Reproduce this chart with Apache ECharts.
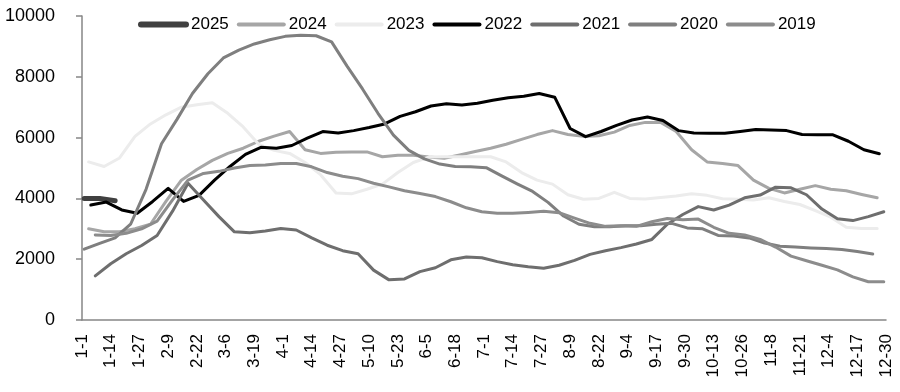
<!DOCTYPE html>
<html>
<head>
<meta charset="utf-8">
<script src="https://cdn.jsdelivr.net/npm/echarts@6/dist/echarts.min.js"></script>
<style>
html,body{margin:0;padding:0;background:#fff;}
#c{width:900px;height:392px;}
</style>
</head>
<body>
<div id="c"></div>
<script>
// x tick labels (day-of-year every 13 days)
const tickLabels = ['1-1','1-14','1-27','2-9','2-22','3-6','3-19','4-1','4-14','4-27','5-10','5-23','6-5','6-18','7-1','7-14','7-27','8-9','8-22','9-4','9-17','9-30','10-13','10-26','11-8','11-21','12-4','12-17','12-30'];
const years = ['2025','2024','2023','2022','2021','2020','2019'];

// weekly observations; first observation day-of-year (0 = 1-1) for each year
const start2025 = 1;
const v2025 = [4000,4000,3920];

const start2024 = 3;
const v2024 = [3000,2900,2900,3000,3150,3900,4600,4950,5250,5480,
  5650,5880,6050,6200,5600,5480,5520,5530,5530,5370,
  5420,5420,5360,5320,5430,5540,5650,5780,5940,6100,
  6230,6100,6040,6060,6180,6400,6500,6500,6200,5600,
  5200,5150,5080,4600,4330,4180,4300,4420,4300,4250,
  4130,4020];

const start2023 = 3;
const v2023 = [5200,5050,5330,6040,6450,6750,7000,7080,7150,6800,
  6350,5780,5580,5480,5180,4780,4180,4150,4300,4470,
  4850,5180,5360,5370,5370,5370,5370,5200,4850,4600,
  4470,4120,3970,4000,4200,4000,3980,4030,4080,4150,
  4100,3990,3970,3950,4020,3900,3800,3600,3380,3050,
  3010,3010];

const start2022 = 4;
const v2022 = [3780,3880,3620,3510,3900,4330,3900,4100,4600,5050,
  5450,5680,5650,5740,5980,6200,6150,6230,6330,6450,
  6700,6850,7040,7110,7070,7130,7230,7310,7360,7450,
  7330,6300,6030,6200,6400,6580,6680,6560,6230,6150,
  6140,6140,6200,6270,6250,6230,6100,6090,6090,5880,
  5600,5470];

const start2021 = 6;
const v2021 = [1450,1850,2180,2450,2780,3580,4500,3950,3400,2900,
  2870,2930,3010,2960,2700,2460,2280,2180,1640,1320,
  1350,1590,1720,1980,2070,2050,1920,1820,1750,1700,
  1800,1960,2160,2280,2380,2500,2650,3150,3470,3730,
  3620,3780,4020,4110,4370,4350,4120,3650,3330,3270,
  3400,3560];

const start2020 = 1;
const v2020 = [2330,2520,2700,3150,4300,5800,6600,7450,8100,8620,
  8880,9080,9220,9330,9370,9350,9150,8350,7600,6800,
  6080,5580,5300,5130,5050,5040,5010,4740,4480,4230,
  3870,3420,3150,3070,3070,3100,3100,3150,3180,3030,
  3000,2780,2760,2700,2530,2430,2400,2370,2350,2320,
  2250,2170];

const start2019 = 6;
const v2019 = [2800,2780,2850,3000,3250,3950,4600,4820,4890,5000,
  5080,5100,5150,5150,5040,4850,4730,4650,4500,4380,
  4250,4160,4060,3890,3690,3560,3510,3510,3540,3580,
  3530,3350,3180,3080,3100,3080,3230,3340,3300,3320,
  3050,2850,2800,2650,2400,2100,1950,1800,1650,1420,
  1260,1260];

function pts(start, vals){ return vals.map((v,i)=>[start+7*i, v]); }

const seriesDefs = [
  {name:'2025', start:start2025, vals:v2025, color:'#404040', width:5, legendWidth:6},
  {name:'2024', start:start2024, vals:v2024, color:'#a6a6a6', width:3, legendWidth:4},
  {name:'2023', start:start2023, vals:v2023, color:'#ececec', width:3, legendWidth:4},
  {name:'2022', start:start2022, vals:v2022, color:'#000000', width:3, legendWidth:4},
  {name:'2021', start:start2021, vals:v2021, color:'#6e6e6e', width:3, legendWidth:4},
  {name:'2020', start:start2020, vals:v2020, color:'#7f7f7f', width:3, legendWidth:4},
  {name:'2019', start:start2019, vals:v2019, color:'#8c8c8c', width:3, legendWidth:4}
];

const FONT = 'Liberation Sans';
const chart = echarts.init(document.getElementById('c'), null, {renderer:'canvas'});
chart.setOption({
  animation:false,
  backgroundColor:'#fff',
  textStyle:{fontFamily:FONT},
  legend:{
    data:seriesDefs.map(s=>({name:s.name, lineStyle:{width:s.legendWidth, cap:'round', color:s.color}})),
    left:138, top:16, padding:0,
    itemWidth:45, itemHeight:14, itemGap:8,
    itemStyle:{opacity:0},
    lineStyle:{width:4, cap:'round'},
    textStyle:{fontFamily:FONT, fontSize:17, color:'#000'}
  },
  grid:{left:82, right:14, top:16, bottom:72, containLabel:false},
  xAxis:{
    type:'value', min:0, max:364, interval:13,
    axisLine:{show:true, lineStyle:{color:'#868686', width:1.5}},
    axisTick:{show:false},
    splitLine:{show:false},
    axisLabel:{
      rotate:90, margin:14, fontSize:17, color:'#000', fontFamily:FONT,
      showMinLabel:true, showMaxLabel:true,
      formatter:function(v){ return tickLabels[Math.round(v/13)] || ''; }
    }
  },
  yAxis:{
    type:'value', min:0, max:10000, interval:2000,
    axisLine:{show:true, lineStyle:{color:'#868686', width:1.5}},
    axisTick:{show:true, length:6, lineStyle:{color:'#868686', width:1.5}},
    splitLine:{show:false},
    axisLabel:{margin:27, fontSize:18, color:'#000', fontFamily:FONT,
      formatter:function(v){ return String(v); }}
  },
  series: seriesDefs.map(s=>({
    name:s.name, type:'line', data:pts(s.start, s.vals),
    symbol:'none', showSymbol:false, smooth:false,
    lineStyle:{color:s.color, width:s.width, cap:'round', join:'round'},
    itemStyle:{color:s.color},
    emphasis:{disabled:true}
  }))
});
</script>
</body>
</html>
